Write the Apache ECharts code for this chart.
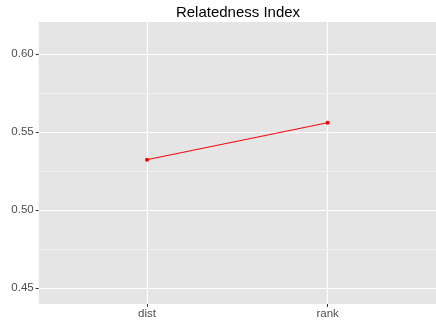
<!DOCTYPE html>
<html>
<head>
<meta charset="utf-8">
<script src="https://cdn.jsdelivr.net/npm/echarts@6/dist/echarts.min.js"></script>
<style>
html,body{margin:0;padding:0;background:#fff;}
#chart{width:436px;height:320px;}
</style>
</head>
<body>
<div id="chart"></div>
<script>
const categories = ['dist', 'rank'];
const values = [0.5322, 0.5559];
const yTicks = [0.45, 0.50, 0.55, 0.60];
const yMinorTicks = [0.475, 0.525, 0.575];
const titleText = 'Relatedness Index';

const chart = echarts.init(document.getElementById('chart'), null, {renderer: 'canvas'});
const font = 'Liberation Sans, Arial, Helvetica, sans-serif';
const yMin = 0.4396, yMax = 0.6205;
const option = {
  animation: false,
  backgroundColor: '#ffffff',
  title: {
    text: titleText,
    left: 238, top: 5, textAlign: 'center', padding: 0,
    textStyle: {fontFamily: font, fontSize: 15, fontWeight: 'normal', color: '#000000'}
  },
  grid: {
    left: 38.7, top: 22, width: 399.5, bottom: 15.3,
    show: true, backgroundColor: '#E5E5E5', borderWidth: 0
  },
  xAxis: {
    type: 'value', min: -0.6, max: 1.6, position: 'bottom',
    axisLine: {show: false, onZero: false},
    axisTick: {show: true, length: 3, lineStyle: {color: '#333333', width: 1}, customValues: [0, 1]},
    axisLabel: {
      customValues: [0, 1], margin: 4, color: '#4D4D4D', fontFamily: font, fontSize: 11.5,
      formatter: v => categories[Math.round(v)] || ''
    },
    splitLine: {show: true, lineStyle: {color: '#FFFFFF', width: 1.1}}
  },
  yAxis: [{
    type: 'value', min: yMin, max: yMax, position: 'left',
    axisLine: {show: false, onZero: false},
    axisTick: {show: true, length: 3, lineStyle: {color: '#333333', width: 1}, customValues: yTicks},
    axisLabel: {
      customValues: yTicks, margin: 5, color: '#4D4D4D', fontFamily: font, fontSize: 11.5,
      formatter: v => v.toFixed(2)
    },
    splitLine: {show: true, lineStyle: {color: '#FFFFFF', width: 1.1}},
    z: 1
  }, {
    type: 'value', min: yMin, max: yMax, position: 'left',
    axisLine: {show: false, onZero: false},
    axisTick: {show: false, customValues: yMinorTicks},
    axisLabel: {show: false, customValues: yMinorTicks},
    splitLine: {show: true, lineStyle: {color: '#F2F2F2', width: 1}},
    z: 0
  }],
  series: [{
    type: 'line',
    yAxisIndex: 0,
    data: categories.map((c, i) => [i, values[i]]),
    symbol: 'circle', symbolSize: 4,
    lineStyle: {color: '#FF0000', width: 1},
    itemStyle: {color: '#FF0000'},
    z: 5
  }]
};
chart.setOption(option);
</script>
</body>
</html>
